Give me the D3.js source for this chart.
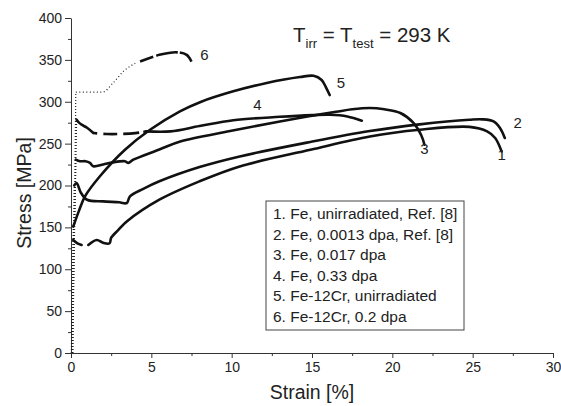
<!DOCTYPE html>
<html>
<head>
<meta charset="utf-8">
<script src="https://cdn.jsdelivr.net/npm/d3@7"></script>
<style>
  body { margin: 0; background: #fff; }
  svg { font-family: Arial, "Liberation Sans", sans-serif; }
</style>
</head>
<body>
<svg id="chart"></svg>
<script>
// [strain %, stress MPa]
const curve1a = [[0.14, 135], [0.4, 131], [0.66, 129]];
const curve1 = [[1.08, 129], [1.6, 135], [2.0, 131.6], [2.4, 131], [2.5, 137.6], [2.95, 147], [3.47, 157], [5.5, 183], [8.0, 205], [10.5, 222.8], [14.9, 242.7], [18.6, 258.6], [21.7, 266.6], [24.8, 270], [25.9, 264.6], [26.4, 256.7], [26.8, 240.7]];
const curve2 = [[0.2, 200], [0.35, 203], [0.6, 192], [1.0, 183], [2.0, 181], [3.0, 180], [3.47, 179], [3.67, 187], [4.5, 196], [5.5, 205], [8.0, 222], [10.5, 234.7], [14.9, 252], [18.6, 265], [21.7, 273], [24.8, 278.5], [25.6, 279], [26.3, 276.5], [26.7, 268.6], [27.0, 256.7]];
const curve3 = [[0.3, 231], [0.56, 229], [0.9, 229], [1.18, 227], [1.39, 223], [2.0, 225], [2.6, 227.6], [3.36, 229], [3.57, 227], [3.88, 230.8], [5.5, 243], [6.8, 252.6], [9.9, 265], [13.0, 276.5], [14.9, 283], [16.5, 288], [17.5, 291], [18.6, 292.6], [19.5, 291], [20.5, 286.6], [21.3, 275], [21.8, 260], [22.0, 248.7]];
const curve4a = [[0.35, 278.6], [0.5, 275], [0.66, 272.6], [1.0, 269], [1.39, 262.7]];
const curve4b = [[1.39, 262.7], [2.2, 261.5], [3.0, 261.5], [4.0, 262.5], [4.7, 264.6]];
const curve4 = [[4.7, 264.6], [6.2, 264.6], [8.0, 271], [10.1, 278], [13.0, 282], [15.0, 284], [16.1, 284.5], [17.2, 282.5], [18.1, 277.4]];
const curve5 = [[0.14, 151], [0.5, 170], [0.87, 187], [1.8, 211], [3.36, 242.7], [4.92, 266.5], [6.78, 288.5], [8.03, 299.5], [10.1, 312.4], [12.18, 322.4], [14.25, 329.5], [15.1, 331], [15.6, 326], [15.9, 316], [16.1, 308]];
const curve6a = [[0.3, 311.6], [1.97, 311.6], [2.6, 322], [3.3, 337], [4.0, 346]];
const curve6 = [[4.3, 348], [5.5, 356], [6.6, 359], [7.2, 356], [7.5, 348]];

const curveLabels = [
  { text: "1", x: 26.8, y: 230 },
  { text: "2", x: 27.8, y: 269 },
  { text: "3", x: 22.0, y: 238 },
  { text: "4", x: 11.6, y: 290 },
  { text: "5", x: 16.8, y: 316 },
  { text: "6", x: 8.3, y: 350 }
];

const legendItems = [
  "1. Fe, unirradiated, Ref. [8]",
  "2. Fe, 0.0013 dpa, Ref. [8]",
  "3. Fe, 0.017 dpa",
  "4. Fe, 0.33 dpa",
  "5. Fe-12Cr, unirradiated",
  "6. Fe-12Cr, 0.2 dpa"
];

const xTicks = [0, 5, 10, 15, 20, 25, 30];
const yTicks = [0, 50, 100, 150, 200, 250, 300, 350, 400];

const w = 561, h = 406;
const svg = d3.select("#chart").attr("width", w).attr("height", h);

const xScale = d3.scaleLinear().domain([0, 30]).range([71, 553]);
const yScale = d3.scaleLinear().domain([0, 400]).range([353, 18]);

// minor ticks
const xMinor = d3.range(2.5, 30, 5);
const yMinor = d3.range(25, 400, 50);

svg.append("g")
  .attr("transform", `translate(0, ${yScale(0)})`)
  .call(d3.axisBottom(xScale).tickValues(xTicks).tickSize(5).tickSizeOuter(0).tickPadding(4));
svg.append("g")
  .attr("transform", `translate(0, ${yScale(0)})`)
  .call(d3.axisBottom(xScale).tickValues(xMinor).tickSize(3).tickFormat(""))
  .select(".domain").remove();

svg.append("g")
  .attr("transform", `translate(${xScale(0)}, 0)`)
  .call(d3.axisLeft(yScale).tickValues(yTicks).tickSize(6).tickSizeOuter(0).tickPadding(3));
svg.append("g")
  .attr("transform", `translate(${xScale(0)}, 0)`)
  .call(d3.axisLeft(yScale).tickValues(yMinor).tickSize(3).tickFormat(""))
  .select(".domain").remove();

svg.selectAll(".tick text").attr("font-size", 14).attr("fill", "#222")
  .attr("font-family", "Arial, 'Liberation Sans', sans-serif");
svg.selectAll(".domain, .tick line").attr("stroke", "#333");

svg.append("text")
  .attr("x", (xScale(0) + xScale(30)) / 2)
  .attr("y", 399)
  .attr("text-anchor", "middle")
  .attr("font-size", 19.5)
  .attr("fill", "#222")
  .text("Strain [%]");

svg.append("text")
  .attr("transform", `translate(31, 193) rotate(-90)`)
  .attr("text-anchor", "middle")
  .attr("font-size", 19.5)
  .attr("fill", "#222")
  .text("Stress [MPa]");

// title
const title = svg.append("text")
  .attr("x", 293)
  .attr("y", 42)
  .attr("font-size", 20.5)
  .attr("fill", "#222");
title.append("tspan").text("T");
title.append("tspan").attr("font-size", 13).attr("dy", 6).text("irr");
title.append("tspan").attr("dy", -6).text(" = T");
title.append("tspan").attr("font-size", 13).attr("dy", 6).text("test");
title.append("tspan").attr("dy", -6).text(" = 293 K");

const line = d3.line()
  .x((d) => xScale(d[0]))
  .y((d) => yScale(d[1]))
  .curve(d3.curveCatmullRom.alpha(0.5));

// elastic loading, dotted
const elastic = [curve1a[0], curve2[0], curve3[0], curve4a[0], curve5[0], curve6a[0]];
elastic.forEach((p, i) => {
  svg.append("path")
    .attr("d", line([[0.02 + i * 0.02, 0], p]))
    .attr("fill", "none")
    .attr("stroke", "#222")
    .attr("stroke-width", 1.2)
    .attr("stroke-dasharray", "1,2");
});

const solid = [curve1a, curve1, curve2, curve3, curve4a, curve4, curve5];
solid.forEach((c) => {
  svg.append("path")
    .attr("d", line(c))
    .attr("fill", "none")
    .attr("stroke", "#111")
    .attr("stroke-width", 2.6)
    .attr("stroke-linecap", "round");
});

svg.append("path")
  .attr("d", line(curve4b))
  .attr("fill", "none")
  .attr("stroke", "#111")
  .attr("stroke-width", 2.6)
  .attr("stroke-dasharray", "4,6,14,6,16");

svg.append("path")
  .attr("d", d3.line().x((d) => xScale(d[0])).y((d) => yScale(d[1])).curve(d3.curveMonotoneX)(curve6a))
  .attr("fill", "none")
  .attr("stroke", "#222")
  .attr("stroke-width", 1.2)
  .attr("stroke-dasharray", "1,2.5");

svg.append("path")
  .attr("d", line(curve6))
  .attr("fill", "none")
  .attr("stroke", "#111")
  .attr("stroke-width", 2.6)
  .attr("stroke-dasharray", "14,3,22,2,60");

svg.selectAll(".curve-label")
  .data(curveLabels)
  .enter()
  .append("text")
  .attr("class", "curve-label")
  .attr("x", (d) => xScale(d.x))
  .attr("y", (d) => yScale(d.y))
  .attr("text-anchor", "middle")
  .attr("font-size", 15)
  .attr("fill", "#222")
  .text((d) => d.text);

// legend
const legend = svg.append("g").attr("transform", "translate(266, 201)");
legend.append("rect")
  .attr("width", 198)
  .attr("height", 129)
  .attr("fill", "#fff")
  .attr("stroke", "#444")
  .attr("stroke-width", 1);
legendItems.forEach((t, i) => {
  legend.append("text")
    .attr("x", 7)
    .attr("y", 18 + i * 20.6)
    .attr("font-size", 15.5)
    .attr("fill", "#222")
    .text(t);
});
</script>
</body>
</html>
